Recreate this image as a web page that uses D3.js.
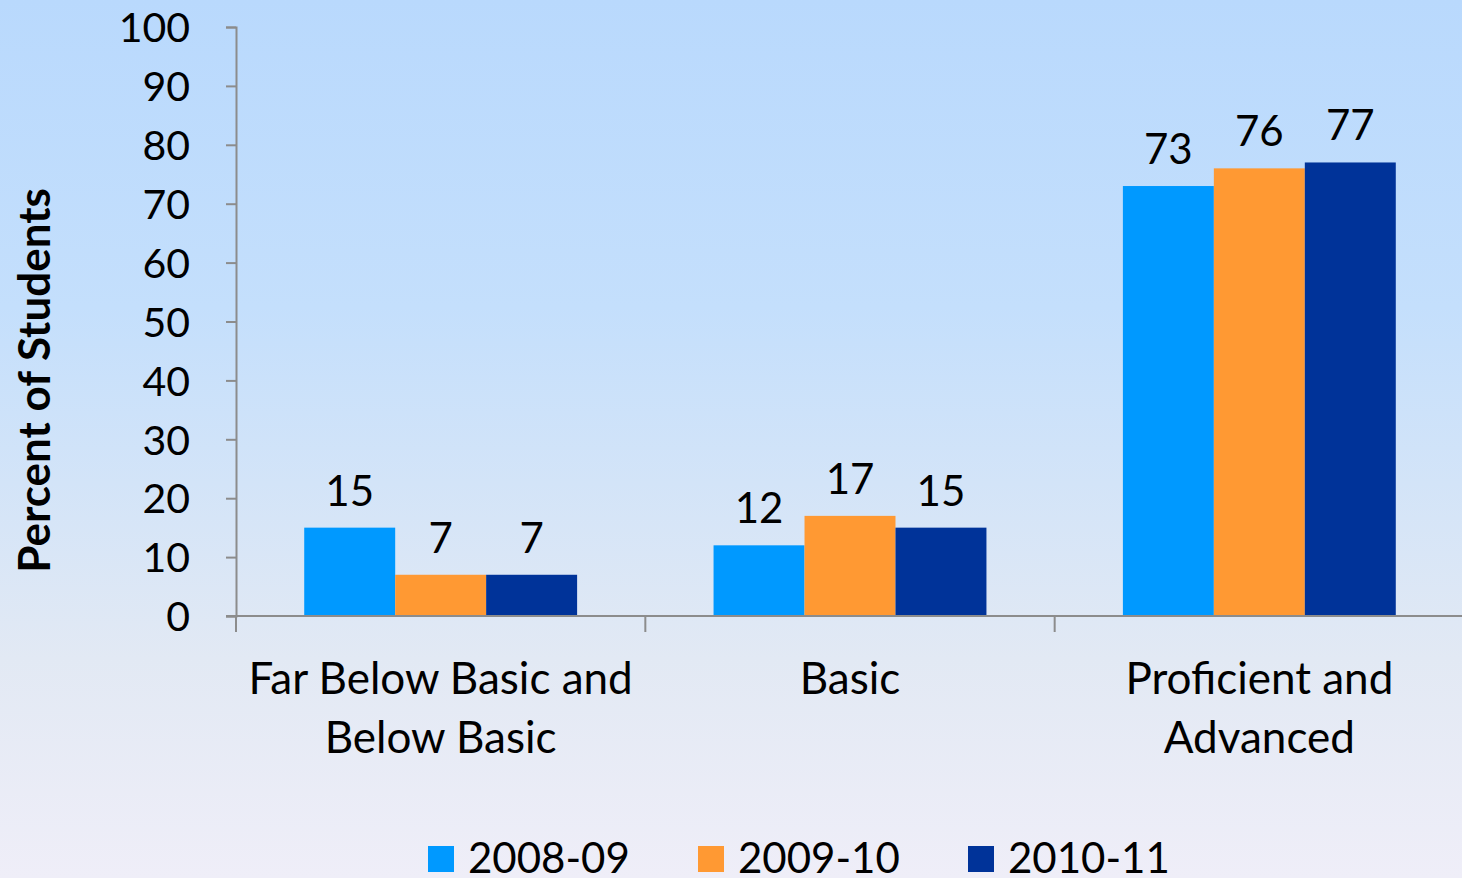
<html>
<head>
<meta charset="utf-8">
<script src="https://d3js.org/d3.v7.min.js"></script>
<style>
  body { margin: 0; padding: 0; overflow: hidden; }
  text { font-family: Lato, "Open Sans", sans-serif; fill: #000; }
  .axis path, .axis line { stroke: #8c8c8c; stroke-width: 2px; }
</style>
</head>
<body>
<script>
// data
var categories = ["Far Below Basic and|Below Basic", "Basic", "Proficient and|Advanced"];
var years = ["2008-09", "2009-10", "2010-11"];
var colors = ["#0099ff", "#ff9933", "#003399"];
var s0809 = [15, 12, 73];
var s0910 = [7, 17, 76];
var s1011 = [7, 15, 77];
var seriesValues = [s0809, s0910, s1011];
var yTicks = [0, 10, 20, 30, 40, 50, 60, 70, 80, 90, 100];

var W = 1462, H = 878;
var margin = { top: 27, right: -2, bottom: 262, left: 236 };
var width = W - margin.left - margin.right,
    height = H - margin.top - margin.bottom;

var svg = d3.select("body").append("svg")
    .attr("width", W)
    .attr("height", H);

// background gradient
var grad = svg.append("defs").append("linearGradient")
    .attr("id", "bg").attr("x1", 0).attr("y1", 0).attr("x2", 0).attr("y2", 1);
grad.append("stop").attr("offset", "0%").attr("stop-color", "#b9d9fd");
grad.append("stop").attr("offset", "35%").attr("stop-color", "#c4dffc");
grad.append("stop").attr("offset", "75%").attr("stop-color", "#e2e9f4");
grad.append("stop").attr("offset", "100%").attr("stop-color", "#efeef8");
svg.append("rect").attr("width", W).attr("height", H).attr("fill", "url(#bg)");

var g = svg.append("g")
    .attr("transform", "translate(" + margin.left + "," + margin.top + ")");

var x0 = d3.scaleBand().domain(d3.range(categories.length)).range([0, width]);
var x1 = d3.scaleBand().domain(d3.range(years.length))
    .range([0, x0.bandwidth()]).paddingOuter(0.75).paddingInner(0);
var y = d3.scaleLinear().domain([0, 100]).range([height, 0]);

// bars
years.forEach(function (yr, si) {
    g.selectAll(".bar" + si)
        .data(seriesValues[si])
        .enter().append("rect")
        .attr("x", function (d, ci) { return x0(ci) + x1(si); })
        .attr("y", function (d) { return y(d); })
        .attr("width", x1.bandwidth())
        .attr("height", function (d) { return height - y(d); })
        .attr("fill", colors[si]);

    g.selectAll(".lbl" + si)
        .data(seriesValues[si])
        .enter().append("text")
        .attr("x", function (d, ci) { return x0(ci) + x1(si) + x1.bandwidth() / 2; })
        .attr("y", function (d) { return y(d) - 22; })
        .attr("text-anchor", "middle")
        .style("font-size", "42px")
        .text(function (d) { return d; });
});

// y axis
var yAxis = g.append("g").attr("class", "axis")
    .call(d3.axisLeft(y).tickValues(yTicks).tickSize(10).tickPadding(36));
yAxis.selectAll("text").style("font-size", "41px").attr("dy", "0.36em");

// x axis
var xAxis = g.append("g").attr("class", "axis")
    .attr("transform", "translate(0," + height + ")");
xAxis.append("line").attr("x1", -10).attr("x2", width).attr("y1", 0).attr("y2", 0);
xAxis.selectAll(".xt")
    .data(d3.range(categories.length))
    .enter().append("line")
    .attr("x1", function (d) { return x0(d); })
    .attr("x2", function (d) { return x0(d); })
    .attr("y1", 0).attr("y2", 16);

xAxis.selectAll(".xl")
    .data(categories)
    .enter().append("text")
    .attr("text-anchor", "middle")
    .attr("transform", function (d, i) { return "translate(" + (x0(i) + x0.bandwidth() / 2) + ",0)"; })
    .style("font-size", "44px")
    .each(function (d) {
        var t = d3.select(this);
        d.split("|").forEach(function (line, li) {
            t.append("tspan").attr("x", 0).attr("y", 78 + li * 59).text(line);
        });
    });

// y title
svg.append("text")
    .attr("transform", "translate(50," + (margin.top + height * 0.6) + ") rotate(-90)")
    .attr("text-anchor", "middle")
    .style("font-size", "44px")
    .style("font-weight", "bold")
    .text("Percent of Students");

// legend
var legend = svg.append("g").attr("transform", "translate(428,846)");
var items = legend.selectAll(".li")
    .data(years)
    .enter().append("g")
    .attr("transform", function (d, i) { return "translate(" + (i * 270) + ",0)"; });
items.append("rect").attr("width", 26).attr("height", 26)
    .attr("fill", function (d, i) { return colors[i]; });
items.append("text").attr("x", 40).attr("y", 27)
    .style("font-size", "42px")
    .text(function (d) { return d; });
</script>
</body>
</html>
